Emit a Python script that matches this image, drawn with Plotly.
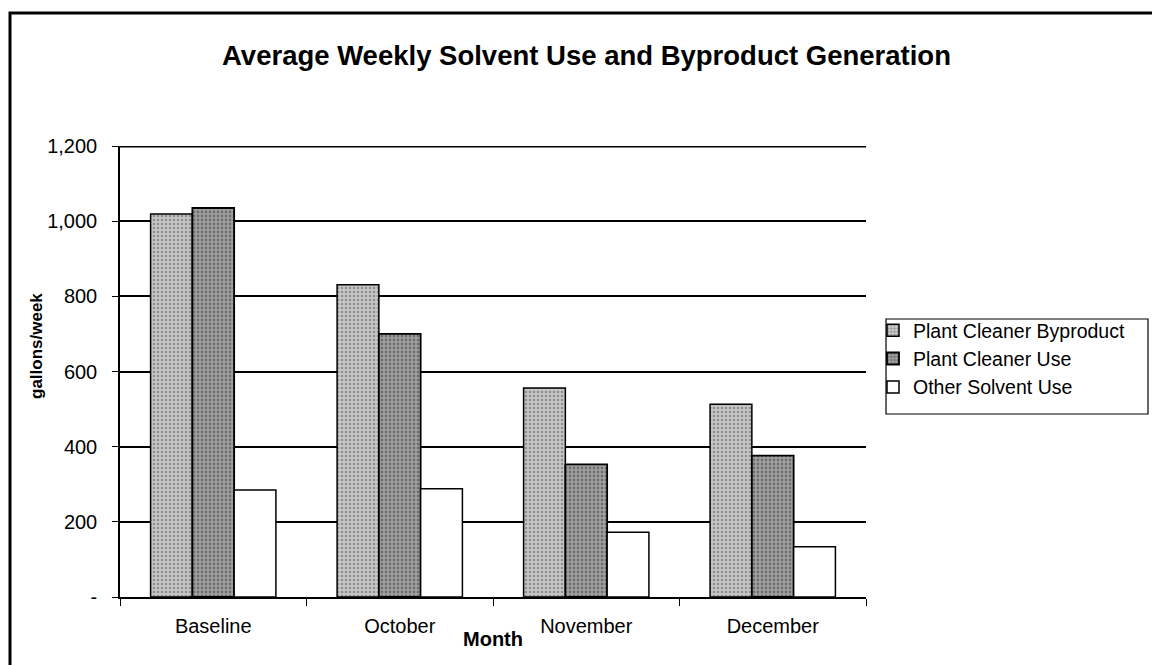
import plotly.graph_objects as go

categories = ["Baseline", "October", "November", "December"]
byproduct = [1019, 831, 556, 513]
cleaner_use = [1035, 700, 353, 376]
other_use = [285, 288, 172, 134]
series_names = ["Plant Cleaner Byproduct", "Plant Cleaner Use", "Other Solvent Use"]
y_tickvals = [0, 200, 400, 600, 800, 1000, 1200]
y_ticktext = ["-", "200", "400", "600", "800", "1,000", "1,200"]

FONT = "Liberation Sans, Arial, sans-serif"

# plot area in screen pixels
L, R, T, B = 120, 866, 146, 597
W, H = 1152, 665
PW, PH = R - L, B - T

def px(x):
    return (x - L) / PW

def py(y):
    return (B - y) / PH

fig = go.Figure()
fig.add_trace(go.Bar(
    x=categories, y=byproduct, name=series_names[0],
    marker=dict(color="#c2c2c2", line=dict(color="black", width=1.5),
                pattern=dict(shape=".", bgcolor="#c6c6c6", fgcolor="#5a5a5a", size=4, solidity=0.35)),
))
fig.add_trace(go.Bar(
    x=categories, y=cleaner_use, name=series_names[1],
    marker=dict(color="#9c9c9c", line=dict(color="black", width=1.8),
                pattern=dict(shape=".", bgcolor="#a2a2a2", fgcolor="#3a3a3a", size=4, solidity=0.4)),
))
fig.add_trace(go.Bar(
    x=categories, y=other_use, name=series_names[2],
    marker=dict(color="white", line=dict(color="black", width=1.5)),
))

fig.update_layout(
    width=W, height=H,
    margin=dict(l=L, r=W - R, t=T, b=H - B, pad=0),
    paper_bgcolor="white", plot_bgcolor="white",
    barmode="group", bargap=0.328, bargroupgap=0,
    font=dict(family=FONT, size=20, color="black"),
    showlegend=True,
    legend=dict(x=px(873), y=py(311), xanchor="left", yanchor="top",
                bgcolor="rgba(0,0,0,0)", borderwidth=0,
                font=dict(family=FONT, size=19.5, color="black"),
                itemwidth=30, tracegroupgap=0),
)
fig.update_xaxes(
    showline=True, linecolor="black", linewidth=1.5,
    ticks="outside", tickson="boundaries", ticklen=7, tickcolor="black", tickwidth=1.2,
    ticklabelstandoff=10,
    tickfont=dict(family=FONT, size=20, color="black"),
    showgrid=False,
)
fig.update_yaxes(
    range=[0, 1200], tickvals=y_tickvals, ticktext=y_ticktext,
    showline=True, linecolor="black", linewidth=1.5,
    ticks="outside", ticklen=6, tickcolor="black", tickwidth=1.2,
    ticklabelstandoff=11,
    showgrid=True, gridcolor="black", gridwidth=1.5,
    zeroline=False,
    tickfont=dict(family=FONT, size=20, color="black"),
)

# top gridline at the end of the value range
fig.add_shape(type="line", xref="paper", yref="y", x0=0, x1=1,
              y0=y_tickvals[-1], y1=y_tickvals[-1],
              line=dict(color="black", width=3), layer="below")

# title
fig.add_annotation(text="<b>Average Weekly Solvent Use and Byproduct Generation</b>",
                   x=px(586), y=py(55), xref="paper", yref="paper",
                   xanchor="center", yanchor="middle", showarrow=False,
                   font=dict(family=FONT, size=27.5, color="black"))
# y title
fig.add_annotation(text="<b>gallons/week</b>", textangle=-90,
                   x=px(36), y=py(346), xref="paper", yref="paper",
                   xanchor="center", yanchor="middle", showarrow=False,
                   font=dict(family=FONT, size=17, color="black"))
# x title
fig.add_annotation(text="<b>Month</b>",
                   x=px(493), y=py(639), xref="paper", yref="paper",
                   xanchor="center", yanchor="middle", showarrow=False,
                   font=dict(family=FONT, size=20, color="black"))

# legend border
fig.add_shape(type="rect", xref="paper", yref="paper",
              x0=px(886), x1=px(1148), y0=py(414), y1=py(319),
              line=dict(color="black", width=1.2))
# outer chart border
fig.add_shape(type="rect", xref="paper", yref="paper",
              x0=px(10), x1=px(1180), y0=py(700), y1=py(13),
              line=dict(color="black", width=3))

fig.write_html("out.html",
               config={"displayModeBar": False},
               post_script="document.body.style.margin='0px';document.body.style.overflow='hidden';")
